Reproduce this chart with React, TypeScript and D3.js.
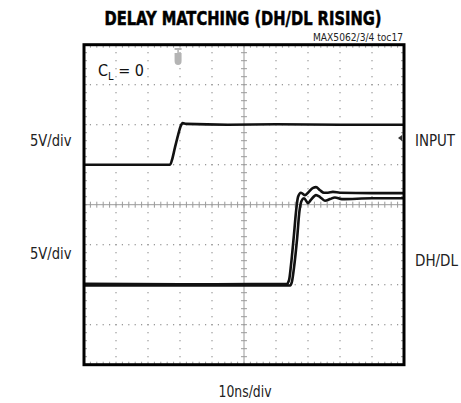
import React from "react";
import * as d3 from "d3";

// ---- data (time in ns, voltage in V; 10ns/div, 5V/div) ----
const timeDomain = [0, 100];
const voltDomain = [-20, 20];

const inputTime = [0, 26.9, 27.5, 28.4, 29.4, 30.2, 30.8, 31.9, 45, 60, 80, 100];
const inputVolt = [5.0, 5.0, 5.6, 7.1, 8.7, 9.8, 10.2, 10.1, 10.0, 10.05, 10.0, 10.0];

const dhTime = [0, 30, 63.4, 64.1, 64.7, 65.6, 66.3, 66.9, 67.8, 69.1, 70.0, 71.6, 72.5, 73.75, 75.0, 76.25, 77.8, 80, 90, 100];
const dhVolt = [-9.9, -9.95, -9.9, -9.4, -7.5, -3.8, -0.7, 1.0, 1.5, 1.2, 1.5, 2.1, 2.2, 1.8, 1.5, 1.5, 1.6, 1.5, 1.45, 1.45];

const dlTime = [0, 30, 64.4, 65.0, 65.6, 66.6, 67.3, 67.97, 68.75, 70.0, 70.9, 72.5, 73.75, 75.3, 76.9, 78.4, 80.6, 90, 100];
const dlVolt = [-10.1, -10.1, -10.1, -9.6, -7.95, -4.2, -0.9, 0.46, 0.8, 0.2, 0.6, 1.2, 0.96, 0.5, 0.7, 0.9, 0.7, 0.8, 0.8];

const xDivisions = 10;
const yDivisions = 8;
const subDivisions = 5;

const titleText = "DELAY MATCHING (DH/DL RISING)";
const tocText = "MAX5062/3/4 toc17";
const leftLabels = ["5V/div", "5V/div"];
const rightLabels = ["INPUT", "DH/DL"];
const xAxisLabel = "10ns/div";

const FONT = "'Liberation Sans Narrow', 'Arial Narrow', 'DejaVu Sans Condensed', 'Liberation Sans', sans-serif";

export default function App() {
  const W = 461, H = 403;
  const L = 84, R = 404, T = 44.7, B = 364.7;
  const x = d3.scaleLinear().domain(timeDomain).range([L, R]);
  const y = d3.scaleLinear().domain(voltDomain).range([B, T]);

  const line = d3
    .line<[number, number]>()
    .x((d) => x(d[0]))
    .y((d) => y(d[1]))
    .curve(d3.curveMonotoneX);

  const inputPts = inputTime.map((t, i) => [t, inputVolt[i]] as [number, number]);
  const dhPts = dhTime.map((t, i) => [t, dhVolt[i]] as [number, number]);
  const dlPts = dlTime.map((t, i) => [t, dlVolt[i]] as [number, number]);

  const dx = (R - L) / xDivisions;
  const dy = (B - T) / yDivisions;
  const cx = L + dx * (xDivisions / 2);
  const cy = T + dy * (yDivisions / 2);

  const grid: React.ReactNode[] = [];
  for (let i = 1; i < xDivisions; i++) {
    if (i === xDivisions / 2) continue;
    const gx = L + i * dx;
    for (let j = 1; j < yDivisions * subDivisions; j++) {
      grid.push(<rect key={`vd${i}-${j}`} x={gx - 0.6} y={T + (j * dy) / subDivisions - 0.6} width={1.2} height={1.2} fill="#909090" />);
    }
  }
  for (let j = 1; j < yDivisions; j++) {
    if (j === yDivisions / 2) continue;
    const gy = T + j * dy;
    for (let i = 1; i < xDivisions * subDivisions; i++) {
      grid.push(<rect key={`hd${j}-${i}`} x={L + (i * dx) / subDivisions - 0.6} y={gy - 0.6} width={1.2} height={1.2} fill="#909090" />);
    }
  }
  grid.push(<line key="cxl" x1={cx} x2={cx} y1={T} y2={B} stroke="#9a9a9a" strokeWidth={1} />);
  grid.push(<line key="cyl" x1={L} x2={R} y1={cy} y2={cy} stroke="#9a9a9a" strokeWidth={1} />);
  for (let j = 1; j < yDivisions * subDivisions; j++) {
    const ty = T + (j * dy) / subDivisions;
    grid.push(<line key={`ctv${j}`} x1={cx - 3} x2={cx + 3} y1={ty} y2={ty} stroke="#9a9a9a" strokeWidth={1} />);
    grid.push(<line key={`ltv${j}`} x1={L} x2={L + 3} y1={ty} y2={ty} stroke="#9a9a9a" strokeWidth={1} />);
    grid.push(<line key={`rtv${j}`} x1={R - 3} x2={R} y1={ty} y2={ty} stroke="#9a9a9a" strokeWidth={1} />);
  }
  for (let i = 1; i < xDivisions * subDivisions; i++) {
    const tx = L + (i * dx) / subDivisions;
    grid.push(<line key={`cth${i}`} x1={tx} x2={tx} y1={cy - 3} y2={cy + 3} stroke="#9a9a9a" strokeWidth={1} />);
    grid.push(<line key={`tth${i}`} x1={tx} x2={tx} y1={T} y2={T + 3} stroke="#9a9a9a" strokeWidth={1} />);
    grid.push(<line key={`bth${i}`} x1={tx} x2={tx} y1={B - 3} y2={B} stroke="#9a9a9a" strokeWidth={1} />);
  }

  const trigX = x(29.4);

  return (
    <svg width={W} height={H} style={{ position: "absolute", left: 0, top: 0, background: "#fff" }} fontFamily={FONT}>
      <rect x={0} y={0} width={W} height={H} fill="#fff" />
      <text x={243} y={25} textAnchor="middle" fontSize={19} fontWeight="bold" stroke="#000" strokeWidth={0.5} textLength={277} lengthAdjust="spacingAndGlyphs" fill="#000">
        {titleText}
      </text>
      <text x={403} y={41} textAnchor="end" fontSize={10} textLength={90} lengthAdjust="spacingAndGlyphs" fill="#222">
        {tocText}
      </text>

      {grid}

      <g fill="#b4b4b4" stroke="none">
        <rect x={trigX - 3.5} y={48} width={7} height={2} />
        <rect x={trigX - 0.8} y={48} width={1.6} height={5} />
        <path d={`M${trigX - 3.5},53 h7 v8 q0,4 -3.5,4 q-3.5,0 -3.5,-4 z`} />
      </g>
      <path d={`M${R - 6},138 l4,-3 v6 z`} fill="#333" />

      <path d={line(dlPts) || ""} fill="none" stroke="#111" strokeWidth={2.6} strokeLinejoin="round" />
      <path d={line(dhPts) || ""} fill="none" stroke="#111" strokeWidth={2.6} strokeLinejoin="round" />
      <path d={line(inputPts) || ""} fill="none" stroke="#111" strokeWidth={2.6} strokeLinejoin="round" />

      <rect x={L} y={T} width={R - L} height={B - T} fill="none" stroke="#000" strokeWidth={3} />

      <text x={98} y={76} fontSize={16} fill="#111">
        C<tspan fontSize={11} dy={4}>L</tspan>
        <tspan dy={-4}> = 0</tspan>
      </text>

      <text x={30} y={146} fontSize={15} textLength={41.5} lengthAdjust="spacingAndGlyphs" fill="#222">{leftLabels[0]}</text>
      <text x={30} y={259} fontSize={15} textLength={41.5} lengthAdjust="spacingAndGlyphs" fill="#222">{leftLabels[1]}</text>
      <text x={415} y={146} fontSize={15} textLength={40} lengthAdjust="spacingAndGlyphs" fill="#222">{rightLabels[0]}</text>
      <text x={415} y={266} fontSize={15} textLength={43} lengthAdjust="spacingAndGlyphs" fill="#222">{rightLabels[1]}</text>
      <text x={245} y={397} textAnchor="middle" fontSize={15} textLength={53} lengthAdjust="spacingAndGlyphs" fill="#222">{xAxisLabel}</text>
    </svg>
  );
}
